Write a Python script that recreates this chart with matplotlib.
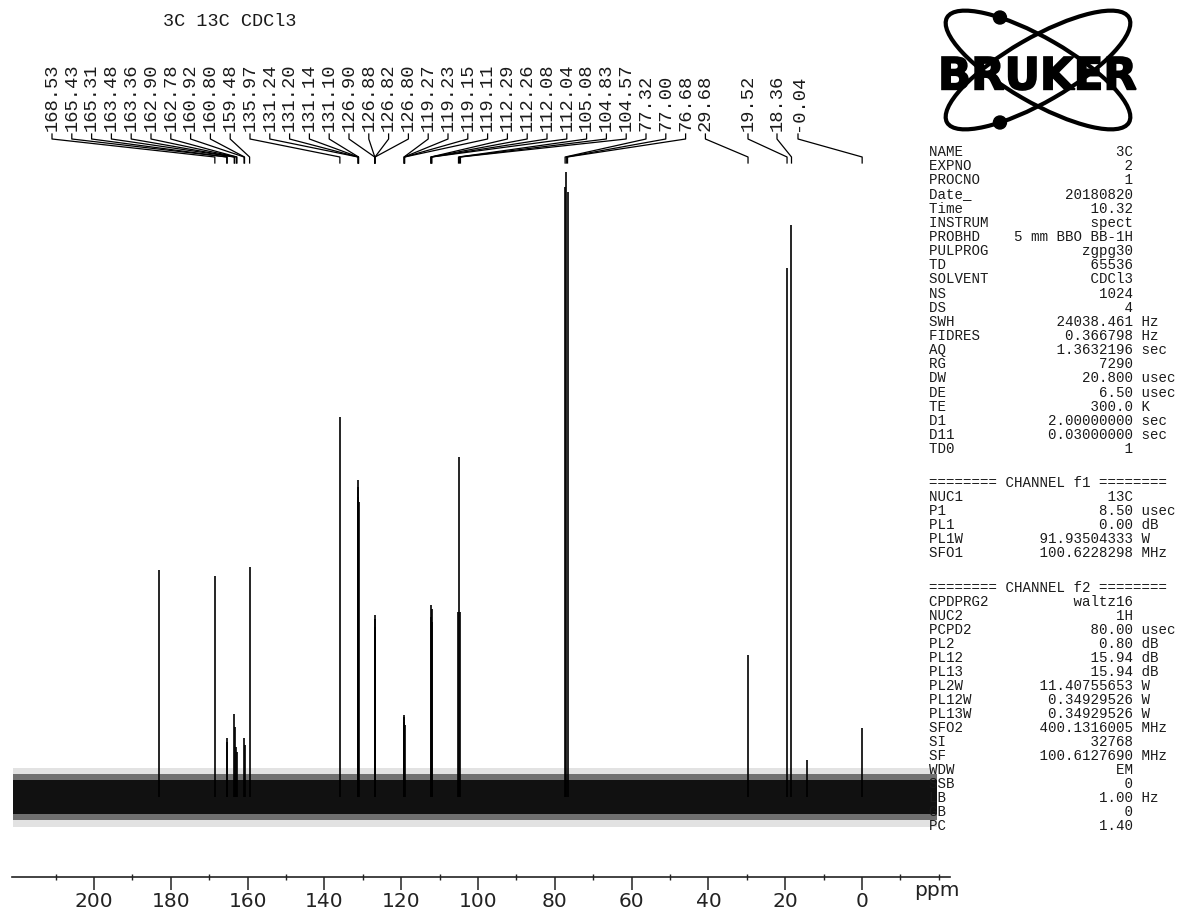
import numpy as np
import matplotlib
matplotlib.use("Agg")
import matplotlib.pyplot as plt
from matplotlib.patches import Ellipse, Circle, PathPatch
from matplotlib.textpath import TextPath
from matplotlib.font_manager import FontProperties
from matplotlib.transforms import Affine2D

# ---------------- data ----------------
title = "3C 13C CDCl3"

peak_ppm = [168.53, 165.43, 165.31, 163.48, 163.36, 162.90, 162.78, 160.92, 160.80,
            159.48, 135.97, 131.24, 131.20, 131.14, 131.10, 126.90, 126.88, 126.82,
            126.80, 119.27, 119.23, 119.15, 119.11, 112.29, 112.26, 112.08, 112.04,
            105.08, 104.83, 104.57, 77.32, 77.00, 76.68, 29.68, 19.52, 18.36, -0.04]
peak_height = [221, 59, 55, 83, 70, 50, 45, 59, 52,
               230, 380, 300, 317, 310, 295, 170, 182, 178,
               165, 75, 82, 80, 72, 180, 192, 188, 175,
               185, 340, 185, 610, 625, 605, 142, 529, 572, 69]

extra_ppm = [183.0, 14.3]          # unlabelled lines visible in the trace
extra_height = [227, 37]

noise_ppm = [221.0, -19.5]
noise_core = [-17, 17]
noise_mid = [-23, 23]
noise_spike = [-30, 29]

tick_values = [200, 180, 160, 140, 120, 100, 80, 60, 40, 20, 0]

acq_names = ["NAME", "EXPNO", "PROCNO", "Date_", "Time", "INSTRUM", "PROBHD", "PULPROG",
             "TD", "SOLVENT", "NS", "DS", "SWH", "FIDRES", "AQ", "RG", "DW", "DE", "TE",
             "D1", "D11", "TD0"]
acq_values = ["3C", "2", "1", "20180820", "10.32", "spect", "5 mm BBO BB-1H", "zgpg30",
              "65536", "CDCl3", "1024", "4", "24038.461", "0.366798", "1.3632196", "7290",
              "20.800", "6.50", "300.0", "2.00000000", "0.03000000", "1"]
acq_units = ["", "", "", "", "", "", "", "", "", "", "", "", "Hz", "Hz", "sec", "",
             "usec", "usec", "K", "sec", "sec", ""]

f1_names = ["NUC1", "P1", "PL1", "PL1W", "SFO1"]
f1_values = ["13C", "8.50", "0.00", "91.93504333", "100.6228298"]
f1_units = ["", "usec", "dB", "W", "MHz"]

f2_names = ["CPDPRG2", "NUC2", "PCPD2", "PL2", "PL12", "PL13", "PL2W", "PL12W", "PL13W",
            "SFO2", "SI", "SF", "WDW", "SSB", "LB", "GB", "PC"]
f2_values = ["waltz16", "1H", "80.00", "0.80", "15.94", "15.94", "11.40755653",
             "0.34929526", "0.34929526", "400.1316005", "32768", "100.6127690", "EM",
             "0", "1.00", "0", "1.40"]
f2_units = ["", "", "usec", "dB", "dB", "dB", "W", "W", "W", "MHz", "", "MHz", "", "",
            "Hz", "", ""]

# ---------------- layout ----------------
W, H = 1180, 914
PX0, PXPP = 862.0, 3.84          # pixel of 0 ppm, pixels per ppm
AX_L, AX_R, AX_B = 12, 950, 877  # spectrum axes extents in pixels
BASE = 797                       # baseline pixel row


def ppm_of(px):
    return (PX0 - px) / PXPP


def ppm_px(p):
    return PX0 - PXPP * p


def yd(py):  # pixel row -> data y of spectrum axes
    return BASE - py


mono = "Liberation Mono"
narrow = ["Liberation Sans Narrow", "DejaVu Sans"]
INK = "#1a1a1a"

fig = plt.figure(figsize=(W / 100, H / 100), dpi=100)
fig.patch.set_facecolor("white")

ax = fig.add_axes([AX_L / W, (H - AX_B) / H, (AX_R - AX_L) / W, AX_B / H])
ax.set_xlim(ppm_of(AX_L), ppm_of(AX_R))
ax.set_ylim(yd(AX_B), yd(0))
ax.patch.set_alpha(0)
for s in ["top", "left", "right"]:
    ax.spines[s].set_visible(False)
ax.spines["bottom"].set_linewidth(1.2)
ax.spines["bottom"].set_color("#222222")
ax.set_yticks([])
ax.set_xticks(tick_values)
ax.set_xticklabels([str(t) for t in tick_values], family=narrow, fontsize=14.5)
ax.set_xticks(np.arange(210, -30, -10), minor=True)
ax.tick_params(axis="x", which="major", direction="out", length=9, width=1.1, pad=1.5,
               colors="#222222")
ax.tick_params(axis="x", which="minor", direction="inout", length=5, width=1.0,
               colors="#222222")

# noise band
ax.fill_between(noise_ppm, noise_spike[0], noise_spike[1], color="#e2e2e2", lw=0, zorder=1)
ax.fill_between(noise_ppm, noise_mid[0], noise_mid[1], color="#707070", lw=0, zorder=1)
ax.fill_between(noise_ppm, noise_core[0], noise_core[1], color="#111111", lw=0, zorder=2)

# peaks
ax.vlines(peak_ppm, 0, peak_height, color="black", lw=1.2, zorder=3)
ax.vlines(extra_ppm, 0, extra_height, color="black", lw=1.2, zorder=3)

# peak labels + connectors
n_main = 34
label_px = [52 + i * 19.8 for i in range(n_main)] + [748, 777, 798, 862]
for lab_x, p in zip(label_px, peak_ppm):
    ax.text(ppm_of(lab_x), yd(131), f"{p:.2f}", rotation=90, ha="center", va="bottom",
            family=mono, fontsize=13.5, color=INK, clip_on=False)
    pk = ppm_px(p)
    xs = [ppm_of(lab_x), ppm_of(lab_x), ppm_of(pk), ppm_of(pk)]
    ys = [yd(134), yd(139), yd(157), yd(163)]
    ax.plot(xs, ys, color="black", lw=0.9, clip_on=False, zorder=4)

# ---------------- overlay (title, logo, parameters) ----------------
ov = fig.add_axes([0, 0, 1, 1])
ov.set_xlim(0, W)
ov.set_ylim(H, 0)
ov.axis("off")

ov.text(163, 22, title, family=mono, fontsize=13.3, ha="left", va="center", color=INK)
ov.text(914, 891, "ppm", family=narrow, fontsize=14.5, ha="left", va="center",
        color="#222222")

# Bruker logo
cx, cy, a, b, th = 1038, 70, 105, 32, 30
for ang, sign in [(th, -1), (-th, 1)]:
    ov.add_patch(Ellipse((cx, cy), 2 * a, 2 * b, angle=ang, fill=False, lw=3.0,
                         color="black"))
    t = np.linspace(0, 2 * np.pi, 4000)
    r = np.radians(ang)
    ex = cx + a * np.cos(t) * np.cos(r) - b * np.sin(t) * np.sin(r)
    ey = cy + a * np.cos(t) * np.sin(r) + b * np.sin(t) * np.cos(r)
    mask = (ey - cy) * sign > 0
    k = np.argmin(np.abs(ex[mask] - 1000))
    ov.add_patch(Circle((ex[mask][k], ey[mask][k]), 6.5, color="black"))

fp = FontProperties(family="DejaVu Sans", weight="bold")
tp = TextPath((0, 0), "BRUKER", size=1, prop=fp)
bb = tp.get_extents()
tw, th_ = 194, 33
tr = (Affine2D().translate(-bb.x0, -bb.y0)
      .scale(tw / bb.width, -th_ / bb.height)
      .translate(942, 90))
ov.add_patch(PathPatch(tr.transform_path(tp), fc="black", ec="black", lw=1.2))

# parameter table
X0 = 929
FS = 10.2


def row(y, name, value, unit):
    s = f"{name:<8}{value:>16} {unit}".rstrip()
    ov.text(X0, y, s, family=mono, fontsize=FS, ha="left", va="center", color=INK)


y = 152
for n, v, u in zip(acq_names, acq_values, acq_units):
    row(y, n, v, u)
    y += 14.15

y = 483
ov.text(X0, y, "======== CHANNEL f1 ========", family=mono, fontsize=FS, ha="left",
        va="center", color=INK)
for n, v, u in zip(f1_names, f1_values, f1_units):
    y += 14.0
    row(y, n, v, u)

y = 588
ov.text(X0, y, "======== CHANNEL f2 ========", family=mono, fontsize=FS, ha="left",
        va="center", color=INK)
for n, v, u in zip(f2_names, f2_values, f2_units):
    y += 14.0
    row(y, n, v, u)

fig.savefig("out.png", dpi=100, facecolor="white")
